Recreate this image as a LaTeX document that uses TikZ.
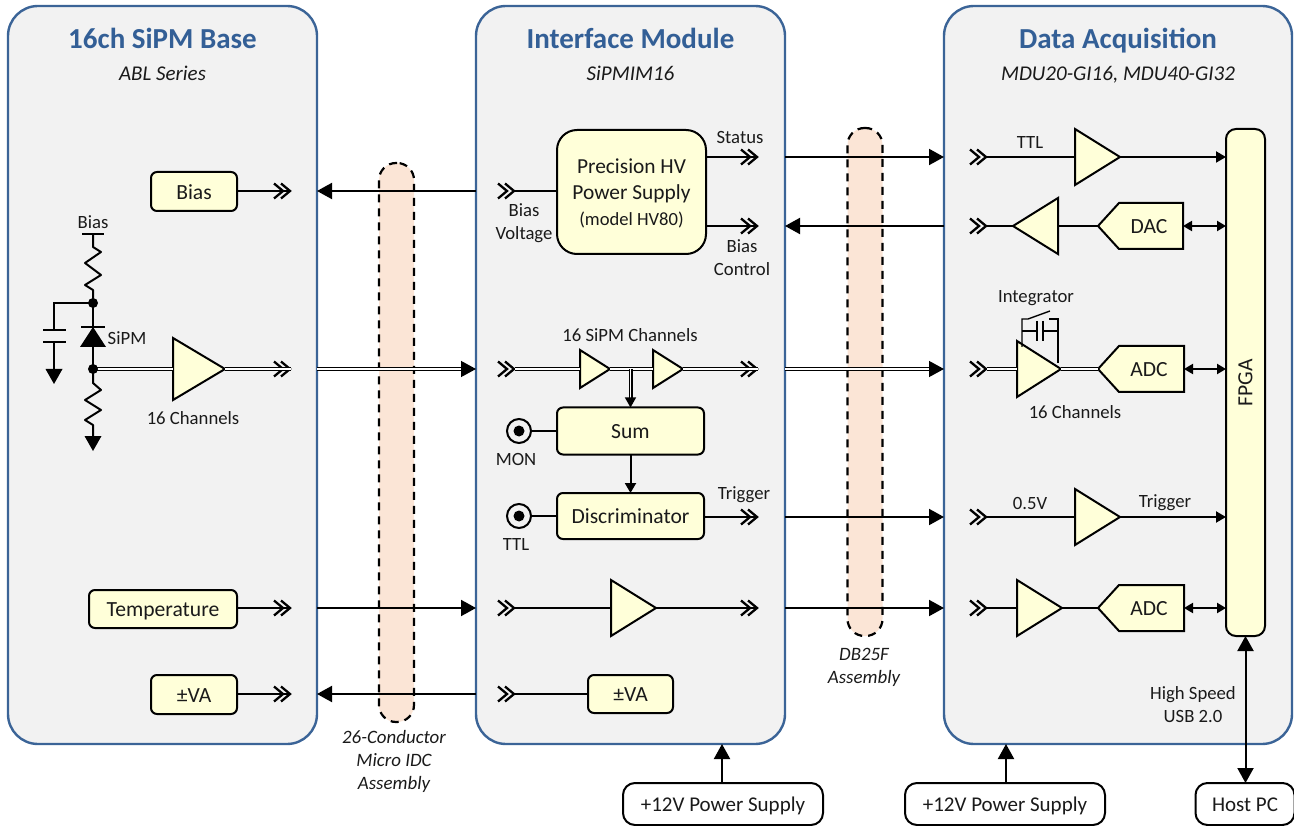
\documentclass[tikz,border=0pt]{standalone}
\usepackage{fontspec}
\setmainfont{Carlito}
\usetikzlibrary{arrows.meta}
\definecolor{panelblue}{HTML}{3B6497}
\definecolor{titleblue}{HTML}{335F96}
\definecolor{panelgrey}{HTML}{F2F2F2}
\definecolor{boxyellow}{HTML}{FFFFD9}
\definecolor{pillfill}{HTML}{FBE5D6}
\definecolor{ink}{HTML}{1A1A1A}
\tikzset{
  panel/.style={draw=panelblue,fill=panelgrey,line width=2.4pt,rounded corners=30pt,inner sep=0pt,outer sep=0pt},
  pill/.style={draw=black,fill=pillfill,line width=2.2pt,dash pattern=on 8pt off 6pt,rounded corners=17pt,inner sep=0pt,outer sep=0pt,minimum width=35pt},
  ybase/.style={draw=black,fill=boxyellow,line width=2pt,rounded corners=6pt,inner sep=0pt,outer sep=0pt,font=\fontsize{21.6}{24}\selectfont,text=ink},
  ybox/.style={ybase,text height=15.5pt,text depth=0pt},
  wbox/.style={draw=black,fill=white,line width=2pt,rounded corners=12pt,inner sep=0pt,outer sep=0pt,minimum height=42pt,font=\fontsize{21}{24}\selectfont,text=ink,text height=15.5pt,text depth=0pt},
  amplifier/.style={draw=black,fill=boxyellow,line width=2pt,line join=miter},
  wire/.style={draw=black,line width=2pt},
  bus/.style={draw=black,line width=1.25pt,double=white,double distance=1.5pt},
  thinwire/.style={draw=black,line width=1.4pt},
  bigtip/.style={-{Triangle[length=15pt,width=16pt]}},
  smalltip/.style={{Triangle[length=9pt,width=10pt]}-{Triangle[length=9pt,width=10pt]}},
  midtip/.style={-{Triangle[length=10pt,width=11pt]}},
  bothbig/.style={{Triangle[length=15pt,width=16pt]}-{Triangle[length=15pt,width=16pt]}},
  lbl/.style={inner sep=0pt,outer sep=0pt,text=ink,font=\fontsize{18.7}{23}\selectfont,align=center},
  capt/.style={inner sep=0pt,outer sep=0pt,text=ink,font=\fontsize{18.9}{23}\selectfont\itshape,align=center},
  paneltitle/.style={inner sep=0pt,outer sep=0pt,text=titleblue,font=\fontsize{29}{32}\selectfont\bfseries,anchor=base},
  panelsub/.style={inner sep=0pt,outer sep=0pt,text=ink,font=\fontsize{21}{23}\selectfont\itshape,anchor=base},
  jack/.style={circle,draw=black,fill=none,line width=2pt,minimum size=24pt,inner sep=0pt,outer sep=0pt},
  dotn/.style={circle,fill=black,minimum size=#1,inner sep=0pt,outer sep=0pt},
  chevline/.style={draw=black,line width=2.3pt,line cap=butt,line join=miter},
  gnd/.style={fill=black,draw=none}
}
% name, tip x, y : double chevron, the named coordinate is its tip
\newcommand{\chv}[3]{%
  \coordinate (#1) at (#2,#3);
  \draw[chevline] (#2-17,#3-7.5) -- (#2-8,#3) -- (#2-17,#3+7.5);
  \draw[chevline] (#2-10,#3-7.5) -- (#2-1,#3) -- (#2-10,#3+7.5);
}
% name, base x, tip x, y, half height
\newcommand{\ampl}[5]{%
  \coordinate (#1-in) at (#2,#4);
  \coordinate (#1-out) at (#3,#4);
  \draw[amplifier] (#2,#4-#5) -- (#3,#4) -- (#2,#4+#5) -- cycle;
}
% name, tip x, shoulder x, right x, y, text, text x
\newcommand{\conv}[7]{%
  \coordinate (#1-tip) at (#2,#5);
  \coordinate (#1-right) at (#4,#5);
  \draw[amplifier] (#2,#5) -- (#3,#5-23) -- (#4,#5-23) -- (#4,#5+23) -- (#3,#5+23) -- cycle;
  \node[lbl,font=\fontsize{21.6}{24}\selectfont,text height=15.5pt,text depth=0pt] (#1-text) at (#7,#5) {#6};
}
\begin{document}
\begin{tikzpicture}[x=1pt,y=-1pt]
\useasboundingbox (0,0) rectangle (1294,826);
% panels
\node[panel,minimum width=309pt,minimum height=738pt] (base) at (162.5,375) {};
\node[panel,minimum width=309pt,minimum height=738pt] (iface) at (630.5,375) {};
\node[panel,minimum width=348pt,minimum height=738pt] (daq) at (1118,375) {};
\node[paneltitle] (t1) at (162.5,48.5) {16ch SiPM Base};
\node[paneltitle] (t2) at (630.5,48.5) {Interface Module};
\node[paneltitle] (t3) at (1118,48.5) {Data Acquisition};
\node[panelsub] (s1) at (162.5,81) {ABL Series};
\node[panelsub] (s2) at (630.5,81) {SiPMIM16};
\node[panelsub] (s3) at (1118,81) {MDU20-GI16, MDU40-GI32};
% cable assemblies
\node[pill,minimum height=559pt] (cableA) at (396.5,442.5) {};
\node[pill,minimum height=508pt] (cableB) at (865,382) {};
\node[capt] (capA) at (394,761) {26-Conductor\\Micro IDC\\Assembly};
\node[capt] (capB) at (864,667) {DB25F\\Assembly};

% left panel boxes
\node[ybox,minimum width=86pt,minimum height=39pt] (bbias) at (194,191.5) {Bias};
\node[ybox,minimum width=148pt,minimum height=38pt] (btemp) at (163,609) {Temperature};
\node[ybox,minimum width=86pt,minimum height=39pt] (bva) at (194,694.5) {±VA};
% middle boxes
\node[ybase,rounded corners=20pt,minimum width=149pt,minimum height=124pt] (hv) at (631.5,192) {};
\node[lbl,font=\fontsize{21.4}{26}\selectfont] (hvtext) at (631.5,193.5) {Precision HV\\Power Supply\\{\fontsize{18.6}{26}\selectfont (model HV80)}};
\node[ybox,minimum width=147pt,minimum height=47pt] (sum) at (630.5,431) {Sum};
\node[ybox,minimum width=147pt,minimum height=46pt] (disc) at (630.5,516) {Discriminator};
\node[ybox,minimum width=85pt,minimum height=38pt] (mva) at (630.5,694) {±VA};
% FPGA
\node[ybase,rounded corners=10pt,minimum width=39pt,minimum height=507pt] (fpga) at (1245.5,382.5) {\rotatebox{90}{FPGA}};
% power and host
\node[wbox,minimum width=200pt] (psA) at (723,804) {+12V Power Supply};
\node[wbox,minimum width=200pt] (psB) at (1005,804) {+12V Power Supply};
\node[wbox,minimum width=99pt] (host) at (1245,804) {Host PC};

% ---- chevrons
\chv{lb}{291}{191}
\chv{ls}{291}{369}
\chv{lt}{291}{608}
\chv{lv}{291}{694}
\chv{mb}{515}{191}
\chv{mst}{758}{157}
\chv{mbc}{758}{226}
\chv{ms}{515}{369}
\chv{mso}{758}{369}
\chv{mtr}{758}{517}
\chv{mt}{515}{608}
\chv{mto}{758}{608}
\chv{mv}{515}{694}
\chv{rst}{987}{157}
\chv{rbc}{987}{226}
\chv{rs}{987}{369}
\chv{rtr}{987}{517}
\chv{rt}{987}{608}

% ---- amplifiers
\coordinate (dsum) at (630.5,369);
\draw[wire] (bbias.east |- lb) -- (lb);
\draw[wire] (btemp.east |- lt) -- (lt);
\draw[wire] (bva.east |- lv) -- (lv);
\coordinate (j2) at (93,369);
\ampl{a1}{173}{225}{369}{31}
\draw[bus] (j2) -- (a1-in);
\draw[bus] (a1-out) -- (ls);
\ampl{a2}{580}{610}{369}{19}
\ampl{a3}{653}{683}{369}{19}
\draw[bus] (ms) -- (a2-in);
\draw[bus] (a2-out) -- (a3-in);
\draw[bus] (a3-out) -- (mso);
\draw[bus,midtip] (dsum) -- (sum.north -| dsum);
\draw[wire,midtip] (sum.south) -- (disc.north);
\ampl{a4}{611}{656}{608}{28}
\draw[wire] (mt) -- (a4-in);
\draw[wire] (a4-out) -- (mto);
\draw[wire] (mb) -- (hv.west |- mb);
\draw[wire] (hv.east |- mst) -- (mst);
\draw[wire] (hv.east |- mbc) -- (mbc);
\draw[wire] (mtr) -- (disc.east |- mtr);
\draw[wire] (mv) -- (mva.west |- mv);
% jacks
\node[jack] (jmon) at (519,431) {};
\node[dotn=11pt] (jmond) at (jmon.center) {};
\node[jack] (jttl) at (519,516) {};
\node[dotn=11pt] (jttld) at (jttl.center) {};
\draw[wire] (jmon.east) -- (sum.west);
\draw[wire] (jttl.east) -- (disc.west);

% ---- DAQ chain
\ampl{a5}{1075}{1120}{157}{28}
\ampl{a6}{1058}{1013}{226}{28}
\ampl{a7}{1017}{1061}{369}{28}
\ampl{a8}{1075}{1120}{517}{28}
\ampl{a9}{1017}{1062}{608}{28}
\conv{dac}{1098}{1119}{1183}{226}{DAC}{1149}
\conv{adca}{1098}{1119}{1184}{369}{ADC}{1149}
\conv{adcb}{1098}{1119}{1184}{608}{ADC}{1149}
\draw[wire] (rst) -- (a5-in);
\draw[wire,midtip] (a5-out) -- (fpga.west |- a5-out);
\draw[wire] (rbc) -- (a6-out);
\draw[wire] (a6-in) -- (dac-tip);
\draw[wire,smalltip] (dac-right) -- (fpga.west |- dac-right);
\draw[bus] (rs) -- (a7-in);
\draw[bus] (a7-out) -- (adca-tip);
\draw[wire,smalltip] (adca-right) -- (fpga.west |- adca-right);
\draw[wire] (rtr) -- (a8-in);
\draw[wire,midtip] (a8-out) -- (fpga.west |- a8-out);
\draw[wire] (rt) -- (a9-in);
\draw[wire] (a9-out) -- (adcb-tip);
\draw[wire,smalltip] (adcb-right) -- (fpga.west |- adcb-right);
% integrator feedback
\coordinate (i1) at (1022,347);
\coordinate (i2) at (1022,319);
\coordinate (i3) at (1028,319);
\coordinate (i4) at (1050,311);
\coordinate (i5) at (1049,319);
\coordinate (i6) at (1058,319);
\coordinate (i7) at (1058,363);
\draw[thinwire] (i1) -- (i2) -- (i3) -- (i4);
\draw[thinwire] (i5) -- (i6) -- (i7);
\draw[thinwire] (1022,331) -- (1037,331) (1037,321) -- (1037,341);
\draw[thinwire] (1043,321) -- (1043,341) (1043,331) -- (1058,331);

% ---- inter-panel links
\draw[wire,bigtip] (iface.west |- lb) -- (base.east |- lb);
\draw[bus,bigtip] (base.east |- ls) -- (iface.west |- ls);
\draw[wire,bigtip] (base.east |- lt) -- (iface.west |- lt);
\draw[wire,bigtip] (iface.west |- lv) -- (base.east |- lv);
\draw[wire,bigtip] (iface.east |- mst) -- (daq.west |- mst);
\draw[wire,bigtip] (daq.west |- mbc) -- (iface.east |- mbc);
\draw[bus,bigtip] (iface.east |- mso) -- (daq.west |- mso);
\draw[wire,bigtip] (iface.east |- mtr) -- (daq.west |- mtr);
\draw[wire,bigtip] (iface.east |- mto) -- (daq.west |- mto);
% power and host links
\draw[wire,bigtip] (psA.north -| 722,0) -- (iface.south -| 722,0);
\draw[wire,bigtip] (psB.north -| 1006,0) -- (daq.south -| 1006,0);
\draw[wire,bothbig] (fpga.south) -- (fpga.south |- host.north);

% ---- SiPM schematic
\coordinate (busbar) at (93,234);
\coordinate (j1) at (93,303);
\draw[wire] (82,234) -- (104,234);
\draw[wire,line join=round] (busbar) -- (93,247) -- (101,252) -- (85,263) -- (101,275) -- (85,285) -- (93,290) -- (j1);
\node[dotn=10pt] (j1n) at (j1) {};
\node[dotn=10pt] (j2n) at (j2) {};
\draw[wire] (j1) -- (54,303) -- (54,330);
\draw[wire] (43,330) -- (66,330) (43,342) -- (66,342);
\draw[wire] (54,342) -- (54,372);
\draw[gnd] (45.5,369) -- (62.5,369) -- (54,384) -- cycle;
\draw[wire] (j1) -- (j2);
\draw[wire] (81,327) -- (105,327);
\draw[gnd] (93,327) -- (106,347) -- (80,347) -- cycle;
\draw[wire,line join=round] (j2) -- (93,383) -- (101,390) -- (85,400) -- (101,410) -- (85,420) -- (93,425) -- (93,438);
\draw[gnd] (84.5,436) -- (101.5,436) -- (93,451) -- cycle;

% ---- labels
\node[lbl] (lBias) at (93,222) {Bias};
\node[lbl] (lSipm) at (127,338) {SiPM};
\node[lbl] (l16a) at (193,418.5) {16 Channels};
\node[lbl] (lBV) at (524,223) {Bias\\Voltage};
\node[lbl] (lSt) at (740,138) {Status};
\node[lbl] (lBC) at (742,258) {Bias\\Control};
\node[lbl] (lSC) at (630,335.5) {16 SiPM Channels};
\node[lbl] (lMon) at (516,459.5) {MON};
\node[lbl] (lTtl) at (516,544.5) {TTL};
\node[lbl] (lTr) at (744,495) {Trigger};
\node[lbl] (lTTL) at (1030,143) {TTL};
\node[lbl] (lInt) at (1036,298) {Integrator};
\node[lbl] (l16b) at (1075,412.5) {16 Channels};
\node[lbl] (l05) at (1030,504) {0.5V};
\node[lbl] (lTrr) at (1165,503) {Trigger};
\node[lbl] (lUsb) at (1193,705) {High Speed\\USB 2.0};
\end{tikzpicture}
\end{document}
